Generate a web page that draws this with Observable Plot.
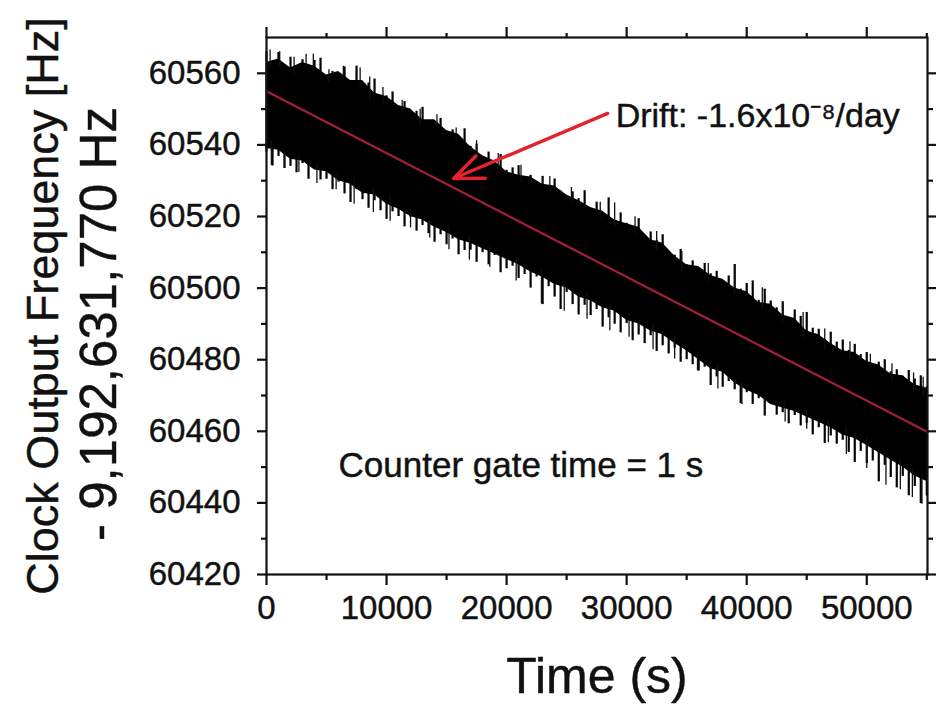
<!DOCTYPE html>
<html><head><meta charset="utf-8">
<script src="https://cdn.jsdelivr.net/npm/d3@7"></script>
<script src="https://cdn.jsdelivr.net/npm/@observablehq/plot@0.6"></script>
<style>
html,body{margin:0;padding:0;background:#fff;}
#chart{width:943px;height:707px;overflow:hidden;}
svg{font-family:"Liberation Sans",Arial,sans-serif;}
svg text{stroke:#111;stroke-width:0.45px;}
</style></head><body><div id="chart"></div>
<script>
// ---- data ----
// core of the noisy trace (every 1000 s)
const timeS = [0,1000,2000,3000,4000,5000,6000,7000,8000,9000,10000,11000,12000,13000,14000,15000,16000,17000,18000,19000,20000,21000,22000,23000,24000,25000,26000,27000,28000,29000,30000,31000,32000,33000,34000,35000,36000,37000,38000,39000,40000,41000,42000,43000,44000,45000,46000,47000,48000,49000,50000,51000,52000,53000,54000,55000];
const upperHz = [60563,60564,60561.5,60563,60562,60559.5,60560.5,60558,60558,60554.5,60553.5,60551,60550,60547,60547,60544,60543,60539.5,60537,60535.5,60532.5,60531.5,60531,60529,60528.5,60526,60524.5,60522.5,60521.5,60519,60518,60517,60513.5,60512.5,60509,60506.5,60506,60503.5,60502.5,60500,60499,60496,60495.5,60492.5,60491.5,60488,60487,60484.5,60482.5,60482,60479.5,60478.5,60476,60475.5,60473,60472];
const lowerHz = [60539,60538.5,60536,60535.5,60533,60532.5,60530,60529,60526.5,60526,60523.5,60522,60520,60519,60517,60515.5,60513.5,60512.5,60511,60509.5,60508,60506.5,60504.5,60503,60501,60500,60497.5,60496.5,60494.5,60493.5,60491,60490,60488,60487,60484.5,60482.5,60480,60477.5,60476.5,60473.5,60471.5,60470,60467.5,60466.5,60465.5,60464,60462.5,60461,60459,60458,60456,60454,60452,60450,60447.5,60446];
// excursions of the trace (every 500 s): max and min
const segT = [0,500,1000,1500,2000,2500,3000,3500,4000,4500,5000,5500,6000,6500,7000,7500,8000,8500,9000,9500,10000,10500,11000,11500,12000,12500,13000,13500,14000,14500,15000,15500,16000,16500,17000,17500,18000,18500,19000,19500,20000,20500,21000,21500,22000,22500,23000,23500,24000,24500,25000,25500,26000,26500,27000,27500,28000,28500,29000,29500,30000,30500,31000,31500,32000,32500,33000,33500,34000,34500,35000,35500,36000,36500,37000,37500,38000,38500,39000,39500,40000,40500,41000,41500,42000,42500,43000,43500,44000,44500,45000,45500,46000,46500,47000,47500,48000,48500,49000,49500,50000,50500,51000,51500,52000,52500,53000,53500,54000,54500,55000];
const segHiHz = [60566.0,60562.1,60565.8,60561.4,60564.5,60560.7,60563.8,60559.9,60563.6,60564.2,60558.4,60560.5,60557.6,60561.8,60557.9,60562.0,60555.2,60557.3,60558.4,60551.6,60553.7,60554.8,60550.0,60552.1,60547.3,60549.4,60550.5,60545.7,60545.8,60547.4,60542.1,60544.2,60542.3,60544.5,60539.6,60540.2,60535.9,60538.0,60535.1,60537.3,60532.9,60533.6,60534.2,60529.8,60531.5,60529.1,60531.2,60527.4,60530.5,60527.1,60524.3,60526.9,60525.0,60527.2,60521.8,60524.0,60520.6,60525.2,60517.9,60521.0,60518.1,60516.3,60519.4,60513.5,60515.7,60513.3,60514.9,60510.1,60509.2,60510.8,60506.5,60507.6,60505.3,60506.9,60504.0,60504.7,60501.3,60503.4,60506.6,60499.7,60501.3,60502.0,60496.6,60499.7,60496.4,60494.5,60496.2,60491.8,60493.9,60492.1,60493.2,60488.8,60488.5,60485.6,60487.7,60484.9,60485.5,60482.6,60484.3,60481.4,60482.0,60478.7,60479.3,60480.0,60476.6,60477.2,60475.4,60477.0,60474.6,60475.5,60472.4];
const segLoHz = [60538.0,60534.1,60536.8,60533.4,60534.0,60532.2,60534.8,60530.4,60533.6,60530.2,60530.4,60527.5,60529.6,60526.3,60523.9,60527.5,60524.7,60522.3,60524.4,60521.6,60519.2,60521.3,60520.0,60517.1,60519.8,60515.9,60517.5,60515.2,60512.8,60514.9,60512.1,60513.7,60509.3,60510.5,60510.6,60507.2,60509.9,60506.5,60509.1,60504.3,60505.4,60506.1,60502.7,60503.8,60500.0,60503.1,60495.4,60500.4,60497.5,60494.0,60498.8,60495.4,60492.5,60495.2,60492.3,60494.0,60489.1,60491.7,60489.9,60487.5,60490.1,60485.3,60486.9,60484.5,60486.7,60482.3,60483.9,60481.6,60483.2,60479.3,60480.0,60478.6,60476.8,60477.9,60472.8,60475.2,60472.3,60473.9,60471.6,60467.7,60470.8,60467.5,60469.1,60464.3,60467.9,60464.5,60465.2,60462.1,60464.4,60461.5,60462.2,60459.0,60461.0,60456.6,60458.7,60456.4,60457.5,60454.1,60451.3,60454.4,60451.0,60451.7,60445.9,60450.5,60447.1,60444.2,60447.4,60442.0,60444.6,60439.8,60441.9];
// isolated tall spikes
const spikeUpT  = [300,1100,2300,3300,3900,5200,6400,7800,8600,9700,11300,12800,14200,15800,17500,19300,21200,23600,25400,27800,29000,30700,32500,34600,36800,39000,41300,43000,44700,46500,48600,50300,52100,53900,54700];
const spikeUpHz = [60566.5,60566,60564.5,60565.3,60565.3,60561,60562,60561.5,60559,60556,60552.5,60550,60548.4,60544.7,60541.2,60537.6,60534.3,60531.2,60528.1,60524,60523.8,60519.9,60515.8,60510.2,60506.9,60506.6,60500.1,60495.7,60493.2,60488.6,60485,60481.5,60478.9,60476.3,60475.1];
const spikeDownT  = [400,1500,2700,4200,5800,7300,8900,10300,12000,13600,15200,16900,18600,20800,22900,24800,26700,28600,30200,32200,34000,35900,37600,39600,41500,43200,45000,46800,48300,50000,51600,52800,53800,54600];
const spikeDownHz = [60534.3,60533.4,60532.3,60529.2,60527.5,60523.4,60521.1,60518.7,60516.8,60514,60510.7,60507.8,60505.8,60502,60495.6,60493.5,60491.3,60488.1,60486.3,60482.8,60480.2,60476.9,60471.8,60467.5,60464.3,60462.6,60460.6,60456.8,60453.5,60449.6,60444.9,60443.7,60441.5,60439.6];
// linear fit
const fitT  = [0, 55060];
const fitHz = [60555.0, 60459.8];
// ticks
const xTicks = [0,10000,20000,30000,40000,50000];
const xMinorTicks = [5000,15000,25000,35000,45000,55000];
const yTicks = [60420,60440,60460,60480,60500,60520,60540,60560];
const yMinorTicks = [60430,60450,60470,60490,60510,60530,60550];
// annotations
const arrowTail = [28417, 60548.8];
const arrowHead = [15583, 60530.6];
const driftText = "Drift: -1.6x10\u207B\u2078/day";
const driftAt = [29083, 60544.9];
const gateText = "Counter gate time = 1 s";
const gateAt = [6000, 60447.1];
const yLabel1 = "Clock Output Frequency [Hz]";
const yLabel2 = "- 9,192,631,770 Hz";
const xLabel = "Time (s)";

// ---- tables ----
const band = timeS.map((t, i) => ({t, lo: lowerHz[i], hi: upperHz[i]}));
const segs = segT.map((t, i) => ({t, lo: segLoHz[i], hi: segHiHz[i]}));
const baseAt = (arr, t) => arr[Math.min(arr.length - 1, Math.round(t / 1000))];
const upSpikes = spikeUpT.map((t, i) => ({t, a: baseAt(upperHz, t) - 2, b: spikeUpHz[i]}));
const downSpikes = spikeDownT.map((t, i) => ({t, a: baseAt(lowerHz, t) + 2, b: spikeDownHz[i]}));
const fit = fitT.map((t, i) => ({t, hz: fitHz[i]}));

const chart = Plot.plot({
  width: 943,
  height: 707,
  marginLeft: 266,
  marginRight: 16,
  marginTop: 37,
  marginBottom: 133,
  style: {background: "#fff", fontFamily: "Liberation Sans, Arial, sans-serif", color: "#111"},
  x: {domain: [0, 55060], label: null},
  y: {domain: [60420, 60570], label: null},
  marks: [
    Plot.areaY(band, {x: "t", y1: "lo", y2: "hi", fill: "#000"}),
    Plot.ruleX(segs, {x: "t", y1: "lo", y2: "hi", stroke: "#000", strokeWidth: 2.2}),
    Plot.ruleX(upSpikes, {x: "t", y1: "a", y2: "b", stroke: "#111", strokeWidth: 1.3}),
    Plot.ruleX(downSpikes, {x: "t", y1: "a", y2: "b", stroke: "#111", strokeWidth: 1.3}),
    Plot.line(fit, {x: "t", y: "hz", stroke: "#a11f38", strokeWidth: 2.2}),
    Plot.arrow([0], {x1: () => arrowTail[0], y1: () => arrowTail[1], x2: () => arrowHead[0], y2: () => arrowHead[1],
      stroke: "#e3232d", strokeWidth: 3.4, headLength: 14, headAngle: 45}),
    Plot.text([driftText], {x: () => driftAt[0], y: () => driftAt[1], text: d => d, textAnchor: "start", lineAnchor: "bottom", fontSize: 34, fill: "#111"}),
    Plot.text([gateText], {x: () => gateAt[0], y: () => gateAt[1], text: d => d, textAnchor: "start", lineAnchor: "bottom", fontSize: 35, fill: "#111"}),
    Plot.frame({stroke: "#111", strokeWidth: 2.2}),
    // bottom axis
    Plot.axisX({anchor: "bottom", ticks: xTicks, tickSize: 11, tickPadding: 10, tickFormat: "d", fontSize: 33, strokeWidth: 2.2, label: null}),
    Plot.axisX({anchor: "bottom", ticks: xMinorTicks, tickSize: 6, tickFormat: () => "", strokeWidth: 2.2, label: null}),
    // top axis (mirror)
    Plot.axisX({anchor: "top", ticks: xTicks, tickSize: 11, tickFormat: () => "", strokeWidth: 2.2, label: null}),
    Plot.axisX({anchor: "top", ticks: xMinorTicks, tickSize: 5, tickFormat: () => "", strokeWidth: 2.2, label: null}),
    // left axis
    Plot.axisY({anchor: "left", ticks: yTicks, tickSize: 9, tickPadding: 17, tickFormat: "d", fontSize: 33, strokeWidth: 2.2, label: null}),
    Plot.axisY({anchor: "left", ticks: yMinorTicks, tickSize: 5, tickFormat: () => "", strokeWidth: 2.2, label: null}),
    // right axis (mirror)
    Plot.axisY({anchor: "right", ticks: yTicks, tickSize: 8, tickFormat: () => "", strokeWidth: 2.2, label: null}),
    Plot.axisY({anchor: "right", ticks: yMinorTicks, tickSize: 5, tickFormat: () => "", strokeWidth: 2.2, label: null}),
    // axis titles
    Plot.text([yLabel1], {frameAnchor: "left", text: d => d, rotate: -90, lineAnchor: "bottom", textAnchor: "middle", dx: -209, dy: 0, fontSize: 45, fill: "#111"}),
    Plot.text([yLabel2], {frameAnchor: "left", text: d => d, rotate: -90, lineAnchor: "bottom", textAnchor: "middle", dx: -151, dy: 18, fontSize: 51, fill: "#111"}),
    Plot.text([xLabel], {frameAnchor: "bottom", text: d => d, lineAnchor: "bottom", textAnchor: "middle", dy: 118, fontSize: 50, fill: "#111"})
  ]
});
document.getElementById("chart").appendChild(chart);
</script>
</body></html>
